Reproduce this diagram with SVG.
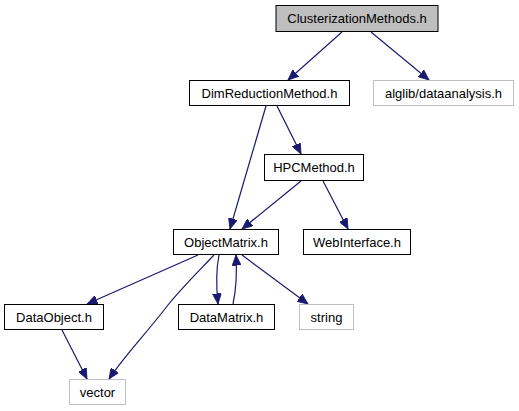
<svg xmlns="http://www.w3.org/2000/svg" width="519" height="411" viewBox="0 0 519 411">
<style>
.box{fill:#fff;stroke:#000;stroke-width:1}
.ext{fill:#fff;stroke:#bfbfbf;stroke-width:1}
.root{fill:#bfbfbf;stroke:#000;stroke-width:1}
text{font-family:"Liberation Sans",Arial,sans-serif;font-size:13px;fill:#000;text-anchor:middle}
.edge{fill:none;stroke:#191970;stroke-width:1.2;marker-end:url(#ah)}
</style>
<defs>
<marker id="ah" markerUnits="userSpaceOnUse" markerWidth="11" markerHeight="9" refX="10.5" refY="4.5" orient="auto">
<path d="M0,0 L10.5,4.5 L0,9 z" fill="#191970" stroke="#191970" stroke-width="0.8"/>
</marker>
</defs>
<rect width="519" height="411" fill="#fff"/>
<g id="edges">
<path class="edge" d="M342,32 L288,80"/>
<path class="edge" d="M371,32 L429,80"/>
<path class="edge" d="M266,106 L230,229"/>
<path class="edge" d="M277,106 L301,154"/>
<path class="edge" d="M301,181 L242,229"/>
<path class="edge" d="M323,181 L348,229"/>
<path class="edge" d="M198,255 L87,304"/>
<path class="edge" d="M214,255 C195,275 180,290 168,305 C145,335 125,355 109,379"/>
<path class="edge" d="M219,255 C216,270 216,285 218,304"/>
<path class="edge" d="M233,304 C236,290 237,272 236,255"/>
<path class="edge" d="M242,255 L308,304"/>
<path class="edge" d="M62,330 L87,379"/>
</g>
<g id="n_ClusterizationMethods"><rect class="root" x="276" y="5.5" width="162" height="26"/><text x="357" y="23">ClusterizationMethods.h</text></g>
<g id="n_DimReductionMethod"><rect class="box" x="189.5" y="80.5" width="160" height="25"/><text x="269.5" y="97.5">DimReductionMethod.h</text></g>
<g id="n_alglib"><rect class="ext" x="373.5" y="80.5" width="140" height="25"/><text x="443.5" y="97.5">alglib/dataanalysis.h</text></g>
<g id="n_HPCMethod"><rect class="box" x="264.5" y="154.5" width="99" height="26"/><text x="314" y="172">HPCMethod.h</text></g>
<g id="n_ObjectMatrix"><rect class="box" x="173.5" y="229.5" width="105" height="25"/><text x="226" y="246.5">ObjectMatrix.h</text></g>
<g id="n_WebInterface"><rect class="box" x="303.5" y="229.5" width="107" height="25"/><text x="357" y="246.5">WebInterface.h</text></g>
<g id="n_DataObject"><rect class="box" x="4.5" y="304.5" width="99" height="25"/><text x="54" y="321.5">DataObject.h</text></g>
<g id="n_DataMatrix"><rect class="box" x="178.5" y="304.5" width="96" height="25"/><text x="226.5" y="321.5">DataMatrix.h</text></g>
<g id="n_string"><rect class="ext" x="299.5" y="304.5" width="54" height="25"/><text x="326.5" y="321.5">string</text></g>
<g id="n_vector"><rect class="ext" x="69.5" y="379.5" width="56" height="25"/><text x="97.5" y="396.5">vector</text></g>
</svg>
